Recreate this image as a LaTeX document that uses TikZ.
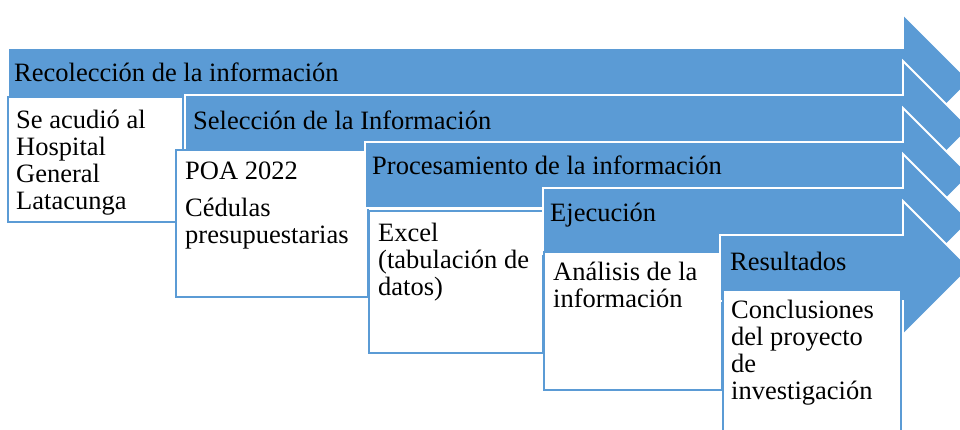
\documentclass[tikz,border=0pt]{standalone}
\usepackage{fontspec}
\setmainfont{Liberation Serif}
\usepackage{tikz}
\usetikzlibrary{positioning}
\definecolor{stepblue}{HTML}{5B9BD5}

\begin{document}
\begin{tikzpicture}[x=1pt,y=-1pt,
  band/.style={fill=stepblue,draw=white,line width=1.8pt,line join=miter},
  infobox/.style={fill=white,draw=stepblue,line width=2pt},
  steptext/.style={font=\fontsize{26.5}{27}\selectfont,inner sep=0pt,align=left,anchor=base west},
  infotext/.style={steptext,anchor=north west}]
\useasboundingbox (0,0) rectangle (960,430);
\clip (0,0) rectangle (960,430);
%step 1: recoleccion
\draw[band] (8,48) -- (903,48) -- (903,14) -- (970,81) -- (903,148) -- (903,114) -- (8,114) -- cycle;
\draw[infobox] (8,97) rectangle (183,222);
\node[steptext] (recoleccion) at (14,82) {Recolección de la información};
\node[infotext] (hospital) at (16,109.1) {\strut Se acudió al\\Hospital\\General\\Latacunga};
%step 2: seleccion
\draw[band] (185,95) -- (903,95) -- (903,61) -- (970,128) -- (903,195) -- (903,161) -- (185,161) -- cycle;
\draw[infobox] (176,150) rectangle (368,297);
\node[steptext] (seleccion) at (193,130) {Selección de la Información};
\node[infotext] (poa) at (185,160.1) {\strut POA 2022\\[10pt]Cédulas\\presupuestarias};
%step 3: procesamiento
\draw[band] (365,142) -- (903,142) -- (903,108) -- (970,175) -- (903,242) -- (903,208) -- (365,208) -- cycle;
\draw[infobox] (369,211) rectangle (543,353);
\node[steptext] (procesamiento) at (372,175) {Procesamiento de la información};
\node[infotext] (excel) at (378,222.1) {\strut Excel\\(tabulación de\\datos)};
%step 4: ejecucion
\draw[band] (543,188) -- (903,188) -- (903,154) -- (970,221) -- (903,288) -- (903,254) -- (543,254) -- cycle;
\draw[infobox] (544,252) rectangle (722,390);
\node[steptext] (ejecucion) at (550,222) {Ejecución};
\node[infotext] (analisis) at (553,261.1) {\strut Análisis de la\\información};
%step 5: resultados
\draw[band] (720,235) -- (903,235) -- (903,201) -- (970,268) -- (903,335) -- (903,301) -- (720,301) -- cycle;
\draw[infobox] (723,290) rectangle (901,445);
\node[steptext] (resultados) at (730,270) {Resultados};
\node[infotext] (conclusiones) at (731,299.1) {\strut Conclusiones\\del proyecto\\de\\investigación};
\end{tikzpicture}
\end{document}
